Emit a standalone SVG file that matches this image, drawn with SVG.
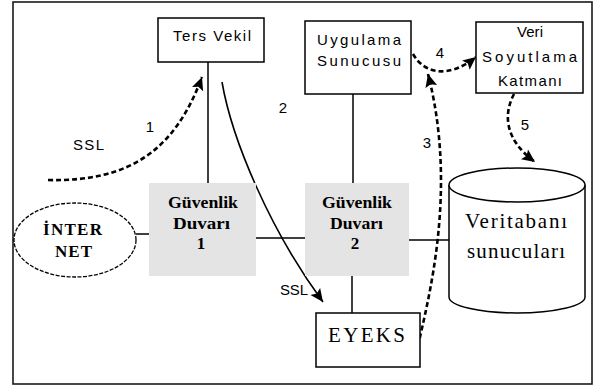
<svg xmlns="http://www.w3.org/2000/svg" width="595" height="387" viewBox="0 0 595 387">
  <style>
    .box { fill: #ffffff; stroke: #000000; stroke-width: 1.5; }
    .wall { fill: #e4e4e4; stroke: none; }
    .link { fill: none; stroke: #000000; stroke-width: 1.5; }
    .flow { fill: none; stroke: #000000; stroke-width: 2.6; stroke-dasharray: 5 3; }
    .flow-solid { fill: none; stroke: #000000; stroke-width: 1.6; }
    .sans { font-family: "Liberation Sans", Arial, sans-serif; font-size: 15px; fill: #000000; }
    .serif-b { font-family: "Liberation Serif", "Times New Roman", serif; font-size: 17px; font-weight: bold; fill: #000000; }
    .serif { font-family: "Liberation Serif", "Times New Roman", serif; font-size: 21px; fill: #000000; }
  </style>
  <defs>
    <marker id="head" markerUnits="userSpaceOnUse" markerWidth="16" markerHeight="14" refX="13" refY="6" orient="auto">
      <path d="M0,0 L13,6 L0,12 L2.5,6 Z" fill="#000000" stroke="none"/>
    </marker>
  </defs>

  <rect x="0" y="0" width="595" height="387" fill="#ffffff"/>
  <!-- outer frame -->
  <rect x="13" y="2" width="579" height="382" fill="none" stroke="#1a1a1a" stroke-width="1.6"/>

  <!-- plain network links -->
  <g id="connectors">
    <line class="link" x1="208" y1="62" x2="208" y2="183"/>
    <line class="link" x1="353" y1="94" x2="353" y2="183"/>
    <line class="link" x1="352" y1="276" x2="352" y2="313"/>
    <line class="link" x1="136" y1="234" x2="149" y2="234"/>
    <line class="link" x1="256" y1="238" x2="305" y2="238"/>
    <line class="link" x1="409" y1="240" x2="449" y2="240"/>

    <!-- numbered request flows -->
    <path class="flow" d="M48,180 C130,182 175,150 202,77" marker-end="url(#head)"/>
    <path class="flow-solid" d="M222,82 C232,140 270,230 323,302" marker-end="url(#head)"/>
    <path class="flow" d="M418,346 C428,300 458,190 428,74" marker-end="url(#head)"/>
    <path class="flow" d="M413,54 C425,75 450,78 476,57" marker-end="url(#head)"/>
    <path class="flow" d="M514,94 C503,115 505,140 535,162" marker-end="url(#head)"/>

    <text class="sans" x="73" y="150" textLength="31" lengthAdjust="spacing">SSL</text>
    <text class="sans" x="150" y="132" text-anchor="middle">1</text>
    <text class="sans" x="283" y="113" text-anchor="middle">2</text>
    <text class="sans" x="280" y="295" textLength="28" lengthAdjust="spacing">SSL</text>
    <text class="sans" x="427" y="148" text-anchor="middle">3</text>
    <text class="sans" x="440" y="58" text-anchor="middle">4</text>
    <text class="sans" x="525" y="130" text-anchor="middle">5</text>
  </g>

  <g id="ters-vekil">
    <rect class="box" x="158" y="18" width="106" height="44"/>
    <text class="sans" x="173" y="41" textLength="78" lengthAdjust="spacing">Ters Vekil</text>
  </g>

  <g id="uygulama-sunucusu">
    <rect class="box" x="305" y="21" width="106" height="73"/>
    <text class="sans" x="317" y="45" textLength="84" lengthAdjust="spacing">Uygulama</text>
    <text class="sans" x="317" y="66" textLength="84" lengthAdjust="spacing">Sunucusu</text>
  </g>

  <g id="veri-soyutlama">
    <rect class="box" x="476" y="22" width="107" height="71"/>
    <text class="sans" x="517" y="37" textLength="26" lengthAdjust="spacing">Veri</text>
    <text class="sans" x="482" y="62" textLength="95" lengthAdjust="spacing">Soyutlama</text>
    <text class="sans" x="498" y="86" textLength="64" lengthAdjust="spacing">Katmanı</text>
  </g>

  <g id="internet">
    <ellipse cx="75" cy="240" rx="61" ry="37" fill="#ffffff" stroke="#000000" stroke-width="1.3" stroke-dasharray="4 1.5"/>
    <text class="serif-b" x="43" y="235" textLength="59" lengthAdjust="spacing">İNTER</text>
    <text class="serif-b" x="55" y="257" textLength="37" lengthAdjust="spacing">NET</text>
  </g>

  <g id="guvenlik-duvari-1">
    <rect class="wall" x="149" y="183" width="107" height="93"/>
    <text class="serif-b" x="168" y="208" textLength="70" lengthAdjust="spacingAndGlyphs">Güvenlik</text>
    <text class="serif-b" x="173" y="229" textLength="57" lengthAdjust="spacingAndGlyphs">Duvarı</text>
    <text class="serif-b" x="201" y="249" text-anchor="middle">1</text>
  </g>

  <g id="guvenlik-duvari-2">
    <rect class="wall" x="305" y="183" width="104" height="93"/>
    <text class="serif-b" x="322" y="208" textLength="70" lengthAdjust="spacingAndGlyphs">Güvenlik</text>
    <text class="serif-b" x="330" y="229" textLength="53" lengthAdjust="spacingAndGlyphs">Duvarı</text>
    <text class="serif-b" x="355" y="249" text-anchor="middle">2</text>
  </g>

  <g id="veritabani">
    <path class="box" d="M449,185 L449,297 A68,16 0 0 0 585,297 L585,185"/>
    <ellipse class="box" cx="517" cy="185" rx="68" ry="17"/>
    <text class="serif" x="465" y="228" textLength="102" lengthAdjust="spacing">Veritabanı</text>
    <text class="serif" x="467" y="258" textLength="98" lengthAdjust="spacing">sunucuları</text>
  </g>

  <g id="eyeks">
    <rect class="box" x="316" y="313" width="104" height="54"/>
    <text class="serif" x="328" y="342" font-size="22" textLength="77" lengthAdjust="spacing">EYEKS</text>
  </g>
</svg>
